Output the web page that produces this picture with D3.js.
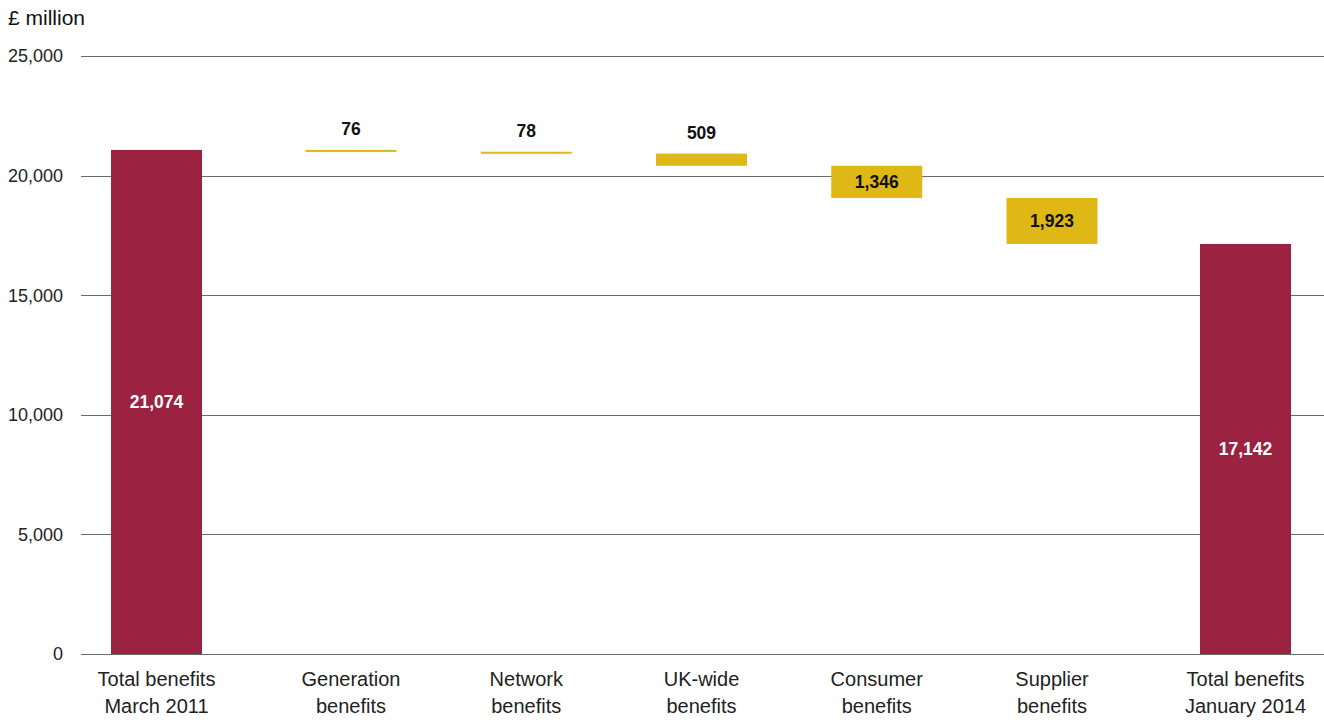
<!DOCTYPE html>
<html>
<head>
<meta charset="utf-8">
<script src="https://cdn.jsdelivr.net/npm/d3@7"></script>
<style>
  html, body { margin: 0; padding: 0; background: #fff; }
  svg { display: block; font-family: "Liberation Sans", Arial, Helvetica, sans-serif; }
</style>
</head>
<body>
<svg id="chart" width="1324" height="720"></svg>
<script>
// ---- Data ----
const categories = [
  ["Total benefits", "March 2011"],
  ["Generation", "benefits"],
  ["Network", "benefits"],
  ["UK-wide", "benefits"],
  ["Consumer", "benefits"],
  ["Supplier", "benefits"],
  ["Total benefits", "January 2014"]
];
const values = [21074, -76, -78, -509, -1346, -1923, 17142];
const kinds = ["total", "delta", "delta", "delta", "delta", "delta", "total"];
const labels = ["21,074", "76", "78", "509", "1,346", "1,923", "17,142"];
const yTicks = [0, 5000, 10000, 15000, 20000, 25000];
const unitLabel = "£ million";

// ---- Build waterfall table ----
let running = 0;
const rows = categories.map((c, i) => {
  let lo, hi;
  if (kinds[i] === "total") { lo = 0; hi = values[i]; running = values[i]; }
  else { hi = running; running = running + values[i]; lo = running; }
  return { idx: i, lines: c, lo, hi, kind: kinds[i], label: labels[i], size: Math.abs(values[i]) };
});

const svg = d3.select("#chart");
const y = d3.scaleLinear().domain([0, 25000]).range([654, 56]);
// piecewise index scale: wider gaps next to the two total bars
const xc = d3.scaleLinear().domain([0, 1, 5, 6]).range([156.5, 351, 1052, 1245.5]);
const bw = 91;

const colors = { total: "#9b2240", delta: "#dfb815" };

// Gridlines
svg.append("g").selectAll("line").data(yTicks).join("line")
  .attr("x1", 81).attr("x2", 1324)
  .attr("y1", d => Math.round(y(d)) + 0.5).attr("y2", d => Math.round(y(d)) + 0.5)
  .attr("stroke", "#6b6b6b").attr("stroke-width", 1.2);

// Y tick labels
const fmt = d3.format(",");
svg.append("g").selectAll("text").data(yTicks).join("text")
  .attr("x", 63).attr("y", d => y(d)).attr("dy", "0.35em")
  .attr("text-anchor", "end").attr("font-size", 18).attr("fill", "#222")
  .text(d => fmt(d));

svg.append("text").attr("x", 8).attr("y", 25).attr("font-size", 21).attr("fill", "#111").text(unitLabel);

// Bars
svg.append("g").selectAll("rect").data(rows).join("rect")
  .attr("x", d => xc(d.idx) - bw / 2).attr("width", bw)
  .attr("y", d => y(d.hi)).attr("height", d => Math.max(2, y(d.lo) - y(d.hi)))
  .attr("fill", d => colors[d.kind]);

// Value labels
svg.append("g").selectAll("text").data(rows).join("text")
  .attr("x", d => xc(d.idx))
  .attr("y", d => d.kind === "delta" && d.size < 1000 ? y(d.hi) - 21 : (y(d.hi) + y(d.lo)) / 2)
  .attr("dy", "0.35em").attr("text-anchor", "middle")
  .attr("font-size", 17.5).attr("font-weight", "bold")
  .attr("fill", d => d.kind === "total" ? "#fff" : "#111")
  .text(d => d.label);

// Category labels
const cat = svg.append("g").selectAll("text").data(rows).join("text")
  .attr("x", d => xc(d.idx))
  .attr("text-anchor", "middle").attr("font-size", 20).attr("fill", "#222");
cat.selectAll("tspan").data(d => d.lines.map(l => ({ l, cx: xc(d.idx) })))
  .join("tspan")
  .attr("x", d => d.cx).attr("y", (d, i) => 686 + i * 27)
  .text(d => d.l);
</script>
</body>
</html>
